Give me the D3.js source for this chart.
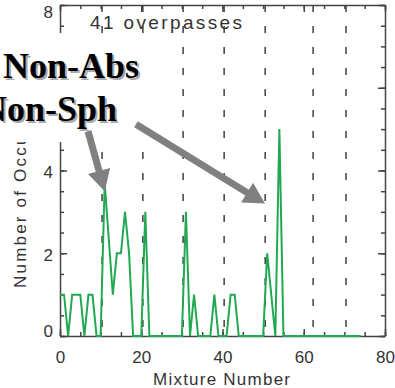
<!DOCTYPE html>
<html>
<head>
<meta charset="utf-8">
<script src="https://cdn.jsdelivr.net/npm/d3@7"></script>
<style>
  html, body { margin: 0; padding: 0; background: #fff; }
  svg { display: block; }
  .axis path, .axis line { stroke: #444; stroke-width: 1.5; }
  .axis text { font-family: "Liberation Sans", Arial, sans-serif; font-size: 17px; fill: #333; }
</style>
</head>
<body>
<div id="chart"></div>
<script>
// mixture numbers and number of occurrences
const mixtures = d3.range(0, 75);
const occurrences = [
  1, 1, 0, 1, 1, 1, 0, 1, 1, 0,
  0, 3.7, 2.35, 1, 2, 2, 3, 2, 0, 0,
  0, 3, 0, 0, 0, 0, 0, 0, 0, 0,
  0, 3, 0, 1, 0, 0, 0, 0, 1, 0,
  0, 0, 1, 1, 0, 0, 0, 0, 0, 0,
  0, 2, 1, 0, 5, 0, 0, 0, 0, 0,
  0, 0, 0, 0, 0, 0, 0, 0, 0, 0,
  0, 0, 0, 0, 0
];
// vertical dashed separators (mixture groups)
const separators = [10.35, 20.4, 30.3, 40.4, 50.5, 62.3, 70.4];
const xTicks = [0, 20, 40, 60, 80];
const yTicks = [0, 2, 4, 6, 8];
const title = "41 overpasses";
const labels = ["Non-Abs", "Non-Sph"];
// arrows: from [x, y] to [x, y] in data units
const arrows = [
  { from: [6.9, 4.95], to: [11.0, 3.5] },
  { from: [18.7, 5.12], to: [50.45, 3.2] }
];

(function () {
  const width = 395, height = 388;
  const svg = d3.select("#chart").append("svg")
    .attr("width", width)
    .attr("height", height);

  const x = d3.scaleLinear().domain([0, 80]).range([60, 385]);
  const y = d3.scaleLinear().domain([0, 8]).range([336, 5]);

  const font = '"Liberation Sans", Arial, sans-serif';

  // y title (partly hidden by the label box later)
  svg.append("text")
    .attr("transform", `translate(26,288) rotate(-90)`)
    .attr("font-family", font)
    .attr("font-size", 17)
    .attr("letter-spacing", 2.2)
    .attr("fill", "#333")
    .text("Number of Occurrences");

  // dashed separators
  svg.append("g").selectAll("line")
    .data(separators)
    .enter()
    .append("line")
    .attr("x1", d => x(d)).attr("x2", d => x(d))
    .attr("y1", y(8)).attr("y2", y(0))
    .attr("stroke", "#222")
    .attr("stroke-width", 1.3)
    .attr("stroke-dasharray", "7,14");

  // axes: major + minor ticks on all four sides, pointing inward
  const minorX = d3.range(0, 81, 5);
  const minorY = d3.range(0, 8.01, 0.5);

  function axisGroup(axis, tx, ty) {
    return svg.append("g")
      .attr("class", "axis")
      .attr("transform", `translate(${tx},${ty})`)
      .call(axis);
  }

  axisGroup(d3.axisBottom(x).tickValues(minorX).tickFormat("").tickSizeInner(-4).tickSizeOuter(0), 0, y(0));
  axisGroup(d3.axisTop(x).tickValues(minorX).tickFormat("").tickSizeInner(-4).tickSizeOuter(0), 0, y(8));
  axisGroup(d3.axisLeft(y).tickValues(minorY).tickFormat("").tickSizeInner(-4).tickSizeOuter(0), x(0), 0);
  axisGroup(d3.axisRight(y).tickValues(minorY).tickFormat("").tickSizeInner(-4).tickSizeOuter(0), x(80), 0);

  axisGroup(d3.axisBottom(x).tickValues(xTicks).tickSizeInner(-7).tickSizeOuter(0).tickPadding(15), 0, y(0))
    .select(".domain").remove();
  axisGroup(d3.axisTop(x).tickValues(xTicks).tickFormat("").tickSizeInner(-7).tickSizeOuter(0), 0, y(8))
    .select(".domain").remove();
  const yAx = axisGroup(d3.axisLeft(y).tickValues(yTicks).tickSizeInner(-7).tickSizeOuter(0).tickPadding(7), x(0), 0);
  yAx.select(".domain").remove();
  axisGroup(d3.axisRight(y).tickValues(yTicks).tickFormat("").tickSizeInner(-7).tickSizeOuter(0), x(80), 0)
    .select(".domain").remove();

  // end labels sit inside the frame a little
  yAx.selectAll(".tick text")
    .attr("dy", d => d === 8 ? "0.75em" : d === 0 ? "0.05em" : "0.4em");

  // x title
  svg.append("text")
    .attr("x", 153).attr("y", 385)
    .attr("font-family", font)
    .attr("font-size", 17)
    .attr("fill", "#333")
    .attr("textLength", 137)
    .attr("lengthAdjust", "spacing")
    .text("Mixture Number");

  // data line
  const line = d3.line()
    .x((d, i) => x(mixtures[i]))
    .y(d => y(d));

  svg.append("path")
    .datum(occurrences)
    .attr("fill", "none")
    .attr("stroke", "#22a852")
    .attr("stroke-width", 2)
    .attr("stroke-linejoin", "miter")
    .attr("d", line);

  // overpasses text
  svg.append("text")
    .attr("x", 90).attr("y", 29)
    .attr("font-family", font)
    .attr("font-size", 19)
    .attr("fill", "#333")
    .attr("textLength", 152)
    .attr("lengthAdjust", "spacing")
    .text(title);

  // white label box
  svg.append("rect")
    .attr("x", 0).attr("y", 33)
    .attr("width", 150).attr("height", 109)
    .attr("fill", "#fff");

  const labelPos = [[3, 78], [-19, 121]];
  labels.forEach((t, i) => {
    const [lx, ly] = labelPos[i];
    svg.append("text")
      .attr("x", lx + 2).attr("y", ly + 1.5)
      .attr("font-family", '"Liberation Serif", "Times New Roman", serif')
      .attr("font-weight", "bold")
      .attr("font-size", 36)
      .attr("fill", "#aaa")
      .text(t);
    svg.append("text")
      .attr("x", lx).attr("y", ly)
      .attr("font-family", '"Liberation Serif", "Times New Roman", serif')
      .attr("font-weight", "bold")
      .attr("font-size", 36)
      .attr("fill", "#000")
      .text(t);
  });

  // arrows
  const headLen = 21, headHalf = 11.5, shaft = 7;
  arrows.forEach(a => {
    const x0 = x(a.from[0]), y0 = y(a.from[1]);
    const x1 = x(a.to[0]), y1 = y(a.to[1]);
    const dx = x1 - x0, dy = y1 - y0;
    const len = Math.hypot(dx, dy);
    const ux = dx / len, uy = dy / len;
    const bx = x1 - ux * headLen, by = y1 - uy * headLen;
    svg.append("line")
      .attr("x1", x0).attr("y1", y0)
      .attr("x2", bx + ux).attr("y2", by + uy)
      .attr("stroke", "#808080")
      .attr("stroke-width", shaft);
    svg.append("path")
      .attr("d", d3.line()([
        [x1, y1],
        [bx - uy * headHalf, by + ux * headHalf],
        [bx + uy * headHalf, by - ux * headHalf]
      ]) + "Z")
      .attr("fill", "#808080");
  });
})();
</script>
</body>
</html>
